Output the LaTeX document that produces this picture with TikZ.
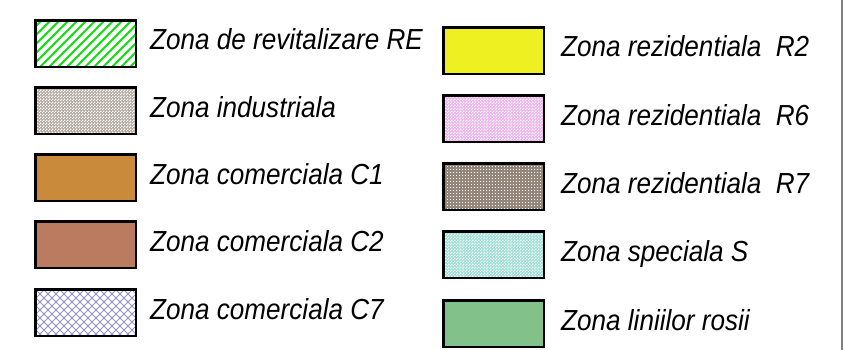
\documentclass[tikz,border=0pt]{standalone}
\usepackage{fontspec}
\setmainfont{Liberation Sans}
\newfontfamily\labfont[FakeStretch=0.9]{Liberation Sans}
\usetikzlibrary{patterns}
\pgfdeclarepatternformonly{chk}{\pgfpointorigin}{\pgfpoint{3pt}{3pt}}{\pgfpoint{3pt}{3pt}}{%
 \pgfpathrectangle{\pgfpointorigin}{\pgfpoint{1.5pt}{1.5pt}}%
 \pgfpathrectangle{\pgfpoint{1.5pt}{1.5pt}}{\pgfpoint{1.5pt}{1.5pt}}%
 \pgfusepath{fill}}
\pgfdeclarepatternformonly{smalldots}{\pgfpointorigin}{\pgfpoint{3pt}{3pt}}{\pgfpoint{3pt}{3pt}}{%
 \pgfpathrectangle{\pgfpointorigin}{\pgfpoint{1.2pt}{1.2pt}}\pgfusepath{fill}}
\pgfdeclarepatternformonly{grstripes}{\pgfpoint{-1pt}{-1pt}}{\pgfpoint{10pt}{10pt}}{\pgfpoint{9pt}{9pt}}{%
 \pgfsetlinewidth{2pt}\pgfpathmoveto{\pgfpoint{-1pt}{-1pt}}\pgfpathlineto{\pgfpoint{10pt}{10pt}}\pgfusepath{stroke}}
\pgfdeclarepatternformonly{xhatch}{\pgfpoint{-1pt}{-1pt}}{\pgfpoint{9pt}{9pt}}{\pgfpoint{8pt}{8pt}}{%
 \pgfsetlinewidth{1pt}\pgfpathmoveto{\pgfpoint{-1pt}{-1pt}}\pgfpathlineto{\pgfpoint{9pt}{9pt}}%
 \pgfpathmoveto{\pgfpoint{-1pt}{9pt}}\pgfpathlineto{\pgfpoint{9pt}{-1pt}}\pgfusepath{stroke}}
\definecolor{cgreen}{HTML}{10E010}
\definecolor{cind}{HTML}{B4A89E}
\definecolor{cc1}{HTML}{C98B3B}
\definecolor{cc2}{HTML}{BA7B60}
\definecolor{cc7}{HTML}{9694C6}
\definecolor{cr2}{HTML}{EEF022}
\definecolor{cr6}{HTML}{F0B0F0}
\definecolor{cr7}{HTML}{948678}
\definecolor{cs}{HTML}{98E0D8}
\definecolor{clin}{HTML}{82C28A}
\begin{document}
\begin{tikzpicture}[x=1pt,y=-1pt,
  swatch/.style={draw=black, line width=2.5pt, minimum width=100.5pt, minimum height=46.5pt, inner sep=0pt, anchor=north west},
  lab/.style={anchor=base west, inner sep=0pt, font=\labfont\itshape\fontsize{29}{29}\selectfont}]
\useasboundingbox (0,0) rectangle (843,350);
\draw[gray, line width=2pt] (842,0) -- (842,350);
% left column
\node[swatch, pattern=grstripes, pattern color=cgreen] (s1) at (34.25,19.25) {};
\node[swatch, preaction={fill=cind}, pattern=chk, pattern color=white] (s2) at (34.25,86.25) {};
\node[swatch, fill=cc1] (s3) at (34.25,153.25) {};
\node[swatch, fill=cc2] (s4) at (34.25,220.25) {};
\node[swatch, pattern=xhatch, pattern color=cc7] (s5) at (34.25,288.25) {};
\node[lab] (l1) at (150,50) {Zona de revitalizare RE};
\node[lab] (l2) at (150,117.5) {Zona industriala};
\node[lab] (l3) at (150,184) {Zona comerciala C1};
\node[lab] (l4) at (150,251) {Zona comerciala C2};
\node[lab] (l5) at (150,319.5) {Zona comerciala C7};
% right column
\node[swatch, fill=cr2] (r1) at (442.25,26.25) {};
\node[swatch, preaction={fill=cr6}, pattern=chk, pattern color=white] (r2) at (442.25,94.25) {};
\node[swatch, preaction={fill=cr7}, pattern=smalldots, pattern color=white] (r3) at (442.25,162.25) {};
\node[swatch, preaction={fill=cs}, pattern=chk, pattern color=white] (r4) at (442.25,230.25) {};
\node[swatch, fill=clin] (r5) at (442.25,299.25) {};
\node[lab] (m1) at (561,57) {Zona rezidentiala\ \ R2};
\node[lab] (m2) at (561,125) {Zona rezidentiala\ \ R6};
\node[lab] (m3) at (561,193.5) {Zona rezidentiala\ \ R7};
\node[lab] (m4) at (561,261.5) {Zona speciala S};
\node[lab] (m5) at (561,330) {Zona liniilor rosii};
\end{tikzpicture}
\end{document}
